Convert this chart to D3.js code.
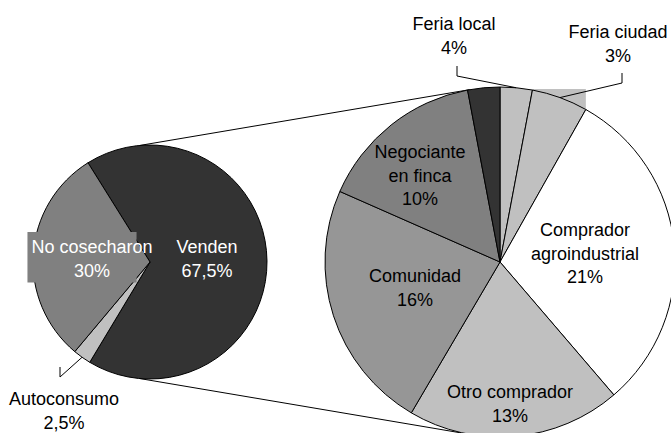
<!DOCTYPE html>
<html>
<head>
<meta charset="utf-8">
<script src="https://cdn.jsdelivr.net/npm/d3@7"></script>
<style>
  body { margin: 0; background: #fff; }
  text { font-family: 'Liberation Sans', Arial, sans-serif; font-size: 18px; }
</style>
</head>
<body>
<div id="chart"></div>
<script>
// main pie
const mainLabels = ['Venden', 'Autoconsumo', 'No cosecharon']
const mainValues = [67.5, 2.5, 30]
const mainPercents = ['67,5%', '2,5%', '30%']

// secondary pie (breakdown of "Venden")
const subLabels = ['Feria local', 'Feria ciudad', 'Comprador agroindustrial', 'Otro comprador', 'Comunidad', 'Negociante en finca', '']
const subValues = [2, 3.5, 20.6, 13.3, 15.6, 10.4, 2]
const subPercents = ['4%', '3%', '21%', '13%', '16%', '10%', '']

const width = 671, height = 433

const svg = d3.select('#chart')
  .append('svg')
  .attr('width', width)
  .attr('height', height)

// gradient for the two small light slices
const grad = svg.append('defs').append('linearGradient')
  .attr('id', 'lightGrad')
  .attr('gradientUnits', 'userSpaceOnUse')
  .attr('x1', 0).attr('x2', 0)
  .attr('y1', 87).attr('y2', 262)
grad.append('stop').attr('offset', '0%').attr('stop-color', '#c0c0c0')
grad.append('stop').attr('offset', '100%').attr('stop-color', '#ffffff')

const mainColors = ['#333333', '#c0c0c0', '#808080']
const subColors = ['url(#lightGrad)', 'url(#lightGrad)', '#ffffff', '#c0c0c0', '#969696', '#808080', '#333333']

const left = { cx: 150, cy: 262, r: 117 }
const right = { cx: 500, cy: 262, r: 175 }
const deg = Math.PI / 180

const mainPie = d3.pie().sort(null).startAngle(-32 * deg).endAngle(328 * deg)
const subPie = d3.pie().sort(null)

const mainArcs = mainPie(mainValues)
const subArcs = subPie(subValues)

const mainArc = d3.arc().innerRadius(0).outerRadius(left.r)
const subArc = d3.arc().innerRadius(0).outerRadius(right.r)

// connector lines between the two pies
const connectors = [[-5, -10], [185, 190]]
connectors.forEach(c => {
  const p1 = d3.pointRadial(c[0] * deg, left.r)
  const p2 = d3.pointRadial(c[1] * deg, right.r)
  svg.append('line')
    .attr('x1', left.cx + p1[0]).attr('y1', left.cy + p1[1])
    .attr('x2', right.cx + p2[0]).attr('y2', right.cy + p2[1])
    .attr('stroke', '#000')
    .attr('stroke-width', 1)
})

// flat box bleeding above the "Feria ciudad" slice
const fc = subArcs[1]
const fcA = d3.pointRadial(fc.startAngle, right.r)
const fcB = d3.pointRadial(fc.endAngle, right.r)
svg.append('rect')
  .attr('x', right.cx + fcA[0])
  .attr('y', right.cy - right.r + 2)
  .attr('width', fcB[0] - fcA[0])
  .attr('height', fcB[1] - (-right.r + 2))
  .attr('fill', '#c0c0c0')

// left pie
const gLeft = svg.append('g')
  .attr('transform', 'translate(' + left.cx + ',' + left.cy + ')')
gLeft.selectAll('path')
  .data(mainArcs)
  .join('path')
  .attr('d', mainArc)
  .attr('fill', (d, i) => mainColors[i])
  .attr('stroke', '#000')
  .attr('stroke-width', 1)

// right pie
const gRight = svg.append('g')
  .attr('transform', 'translate(' + right.cx + ',' + right.cy + ')')
gRight.selectAll('path')
  .data(subArcs)
  .join('path')
  .attr('d', subArc)
  .attr('fill', (d, i) => subColors[i])
  .attr('stroke', '#000')
  .attr('stroke-width', 1)

// leader lines for labels outside the pies
function leader(g, arcDatum, r, elbow) {
  const edge = d3.arc().innerRadius(r).outerRadius(r).centroid(arcDatum)
  g.append('polyline')
    .attr('points', [[elbow[0], elbow[1] - 10], elbow, edge].map(p => p.join(',')).join(' '))
    .attr('fill', 'none')
    .attr('stroke', '#000')
    .attr('stroke-width', 1)
}
leader(gLeft, mainArcs[1], left.r, [-90, 115])
leader(gRight, subArcs[0], right.r, [-43, -186])
leader(gRight, subArcs[1], right.r, [122, -179])

// label layout: x, first baseline, text colour
function label(lines, x, y, color) {
  const t = svg.append('text')
    .attr('text-anchor', 'middle')
    .attr('fill', color)
  lines.forEach((s, i) => {
    t.append('tspan').attr('x', x).attr('y', y + i * 23.5).text(s)
  })
  return t
}

// "No cosecharon" has a filled label box
const ncLabel = label([mainLabels[2], mainPercents[2]], 92, 253, '#fff')
const bb = ncLabel.node().getBBox()
svg.insert('rect', 'text')
  .attr('x', bb.x - 4)
  .attr('y', bb.y - 5)
  .attr('width', bb.width - 12)
  .attr('height', bb.height + 7)
  .attr('fill', mainColors[2])

label([mainLabels[0], mainPercents[0]], 207, 253, '#fff')
label([mainLabels[1], mainPercents[1]], 64, 405, '#000')

label(['Feria local', subPercents[0]], 454, 30, '#000')
label(['Feria ciudad', subPercents[1]], 618, 38, '#000')
label(['Comprador', 'agroindustrial', subPercents[2]], 585, 236, '#000')
label([subLabels[3], subPercents[3]], 510, 398, '#000')
label([subLabels[4], subPercents[4]], 415, 282, '#000')
label(['Negociante', 'en finca', subPercents[5]], 420, 158, '#000')
</script>
</body>
</html>
